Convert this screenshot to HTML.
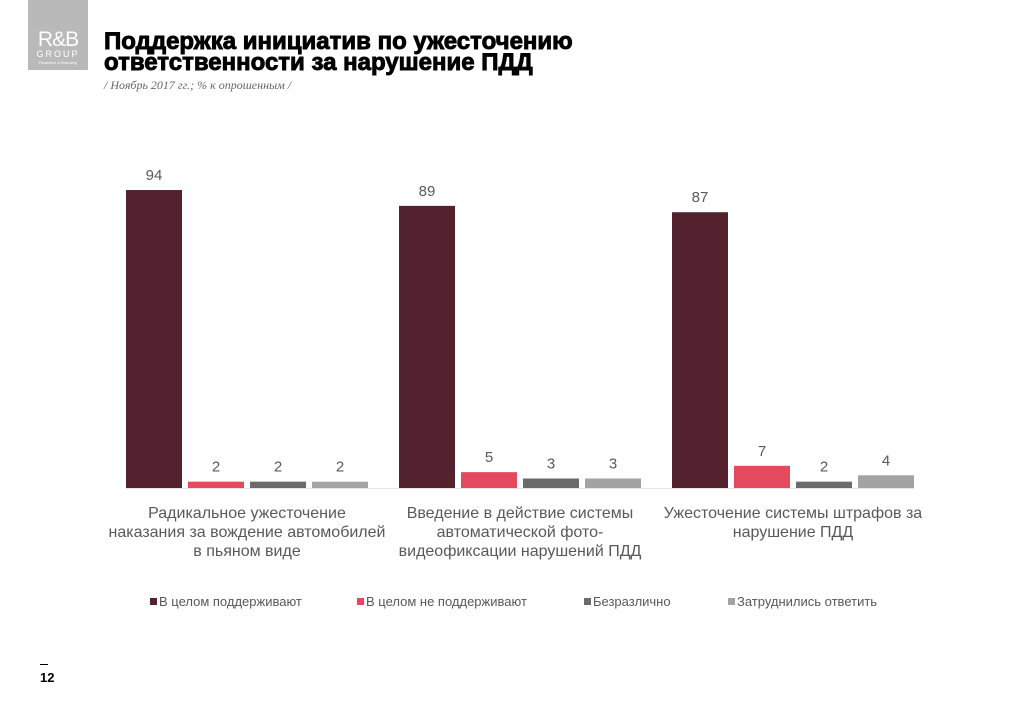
<!DOCTYPE html>
<html><head><meta charset="utf-8"><style>
body{margin:0;width:1024px;height:709px;background:#fff;position:relative;overflow:hidden;font-family:"Liberation Sans","Noto Sans CJK SC",sans-serif}
.abs{position:absolute}
</style></head><body>
<div class="abs" style="left:28px;top:0;width:60px;height:70px;background:#b9b9b9;color:#fff;text-align:center">
<div style="margin-top:31px;font-size:21px;line-height:18px;letter-spacing:-1px">R&amp;B</div>
<div style="font-size:9px;letter-spacing:2px;line-height:11px">GROUP</div>
<div style="font-size:4px;line-height:5px">Research &amp; Branding</div></div>
<div class="abs" style="left:104px;top:31px;font-size:24px;font-weight:900;line-height:21px;letter-spacing:0px;color:#000;-webkit-text-stroke:0.9px #000">Поддержка инициатив по ужесточению<br>ответственности за нарушение ПДД</div>
<div class="abs" style="left:104px;top:78px;font-family:'Liberation Serif',serif;font-style:italic;font-size:12px;color:#666">/ Ноябрь 2017 гг.; % к опрошенным /</div>
<svg id="chart" class="abs" style="left:0;top:0" width="1024" height="709"></svg>
<div class="abs" style="left:40px;top:664px;font-size:13px;font-weight:bold;color:#000"><div style="width:8px;height:1px;background:#000;margin-bottom:5px"></div>12</div>
<script>
const categories=[["Радикальное ужесточение","наказания за вождение автомобилей","в пьяном виде"],["Введение в действие системы","автоматической фото-","видеофиксации нарушений ПДД"],["Ужесточение системы штрафов за","нарушение ПДД"]];
const seriesNames=["В целом поддерживают","В целом не поддерживают","Безразлично","Затруднились ответить"];
const support=[94,89,87];
const notSupport=[2,5,7];
const indifferent=[2,3,2];
const hardToSay=[2,3,4];
const colors=["#54222f","#e34a5e","#6b6b6b","#a3a3a3"];
const series=[support,notSupport,indifferent,hardToSay];
const NS="http://www.w3.org/2000/svg";
const svg=document.getElementById("chart");
const baseY=488, scale=3.17, x0=126, groupStep=273, barStep=62, barW=56;
const y=v=>baseY-v*scale;
function el(t,a){const e=document.createElementNS(NS,t);for(const k in a)e.setAttribute(k,a[k]);svg.appendChild(e);return e;}
const ax=el("line",{x1:x0,x2:x0+2*groupStep+4*barStep-6,y1:baseY+0.5,y2:baseY+0.5,stroke:"#e4e4e4"});


categories.forEach((c,gi)=>{
  series.forEach((s,si)=>{
    const bx=x0+gi*groupStep+si*barStep;
    const r=el("rect",{x:bx,y:y(s[gi]),width:barW,height:s[gi]*scale,fill:colors[si]});
    
    
    const t=el("text",{x:bx+barW/2,y:y(s[gi])-10,"text-anchor":"middle","font-size":15,fill:"#595959"});
    t.textContent=s[gi];
    
    
  });
  const cx=x0+gi*groupStep+(3*barStep+barW)/2;
  c.forEach((line,li)=>{
    const t=el("text",{x:cx,y:518+li*19,"text-anchor":"middle","font-size":16,fill:"#595959"});
    t.textContent=line;
    
    
  });
});
const legX=[150,357,584,728];
seriesNames.forEach((n,i)=>{
  const r=el("rect",{x:legX[i],y:598,width:7,height:7,fill:colors[i]});
  
  
  const t=el("text",{x:legX[i]+9,y:606,"font-size":13,fill:"#595959"});
  t.textContent=n;
  
  
});
</script>
</body></html>
